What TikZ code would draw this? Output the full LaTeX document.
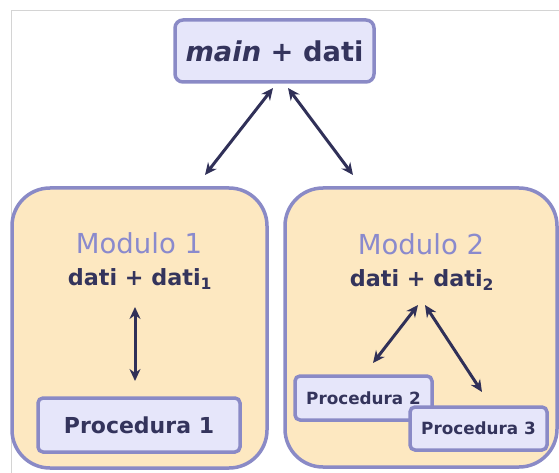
\documentclass[tikz,border=0pt]{standalone}
\usepackage{fontspec}
\setmainfont{DejaVu Sans}
\usetikzlibrary{arrows.meta}
\definecolor{edge}{RGB}{138,138,198}
\definecolor{lav}{RGB}{230,230,250}
\definecolor{peach}{RGB}{253,232,193}
\definecolor{ink}{RGB}{52,52,92}
\definecolor{modtxt}{RGB}{138,138,205}
\definecolor{arrowc}{RGB}{48,48,88}
\definecolor{rule}{RGB}{212,212,212}
\tikzset{
  modbox/.style={draw=edge, fill=peach, line width=3.5pt, rounded corners=38pt, inner sep=0pt},
  procbox/.style={draw=edge, fill=lav, line width=3.5pt, rounded corners=5pt, inner sep=0pt,
    text=ink, font=\bfseries},
  link/.style={draw=arrowc, line width=3pt, {Stealth[length=12pt,width=11pt]}-{Stealth[length=12pt,width=11pt]}},
}
\begin{document}
\begin{tikzpicture}[x=1pt,y=-1pt]
\useasboundingbox (0,0) rectangle (559,473);
% thin frame along the top and left edges
\draw[rule, line width=1pt] (559,11) -- (11,11) -- (11,473);

% modules
\node[modbox, minimum width=255pt, minimum height=280pt] (m1) at (139.5,328) {};
\node[modbox, minimum width=272pt, minimum height=279pt] (m2) at (421,327.5) {};

% main program box
\node[procbox, minimum width=199pt, minimum height=62pt, rounded corners=8pt,
      font=\bfseries\fontsize{27.3}{30}\selectfont] (main) at (274.5,51)
      {\textit{main} + dati};

% module titles
\node[text=modtxt, font=\fontsize{27.5}{30}\selectfont] (t1) at (139,243) {Modulo 1};
\node[text=ink, font=\bfseries\fontsize{22.3}{25}\selectfont] (d1) at (140,279) {dati + dati\textsubscript{1}};
\node[text=modtxt, font=\fontsize{27.5}{30}\selectfont] (t2) at (421,244) {Modulo 2};
\node[text=ink, font=\bfseries\fontsize{22.3}{25}\selectfont] (d2) at (422,280) {dati + dati\textsubscript{2}};

% procedures
\node[procbox, minimum width=202pt, minimum height=54pt, font=\bfseries\fontsize{22}{25}\selectfont] (p1) at (139,425) {Procedura 1};
\node[procbox, minimum width=137pt, minimum height=44pt, font=\bfseries\fontsize{16.8}{19}\selectfont] (p2) at (363.5,398) {Procedura 2};
\node[procbox, minimum width=137pt, minimum height=43pt, font=\bfseries\fontsize{16.8}{19}\selectfont] (p3) at (478.5,428.5) {Procedura 3};

% arrow end points
\coordinate (a1s) at (273,88);
\coordinate (a1e) at (205,175);
\coordinate (a2s) at (288,88);
\coordinate (a2e) at (353,175);
\coordinate (b1s) at (135,307);
\coordinate (b1e) at (135,381);
\coordinate (c1s) at (418,305);
\coordinate (c1e) at (373,363);
\coordinate (c2s) at (425,305);
\coordinate (c2e) at (482,392);

\draw[link] (a1s) -- (a1e);
\draw[link] (a2s) -- (a2e);
\draw[link] (b1s) -- (b1e);
\draw[link] (c1s) -- (c1e);
\draw[link] (c2s) -- (c2e);
\end{tikzpicture}
\end{document}
